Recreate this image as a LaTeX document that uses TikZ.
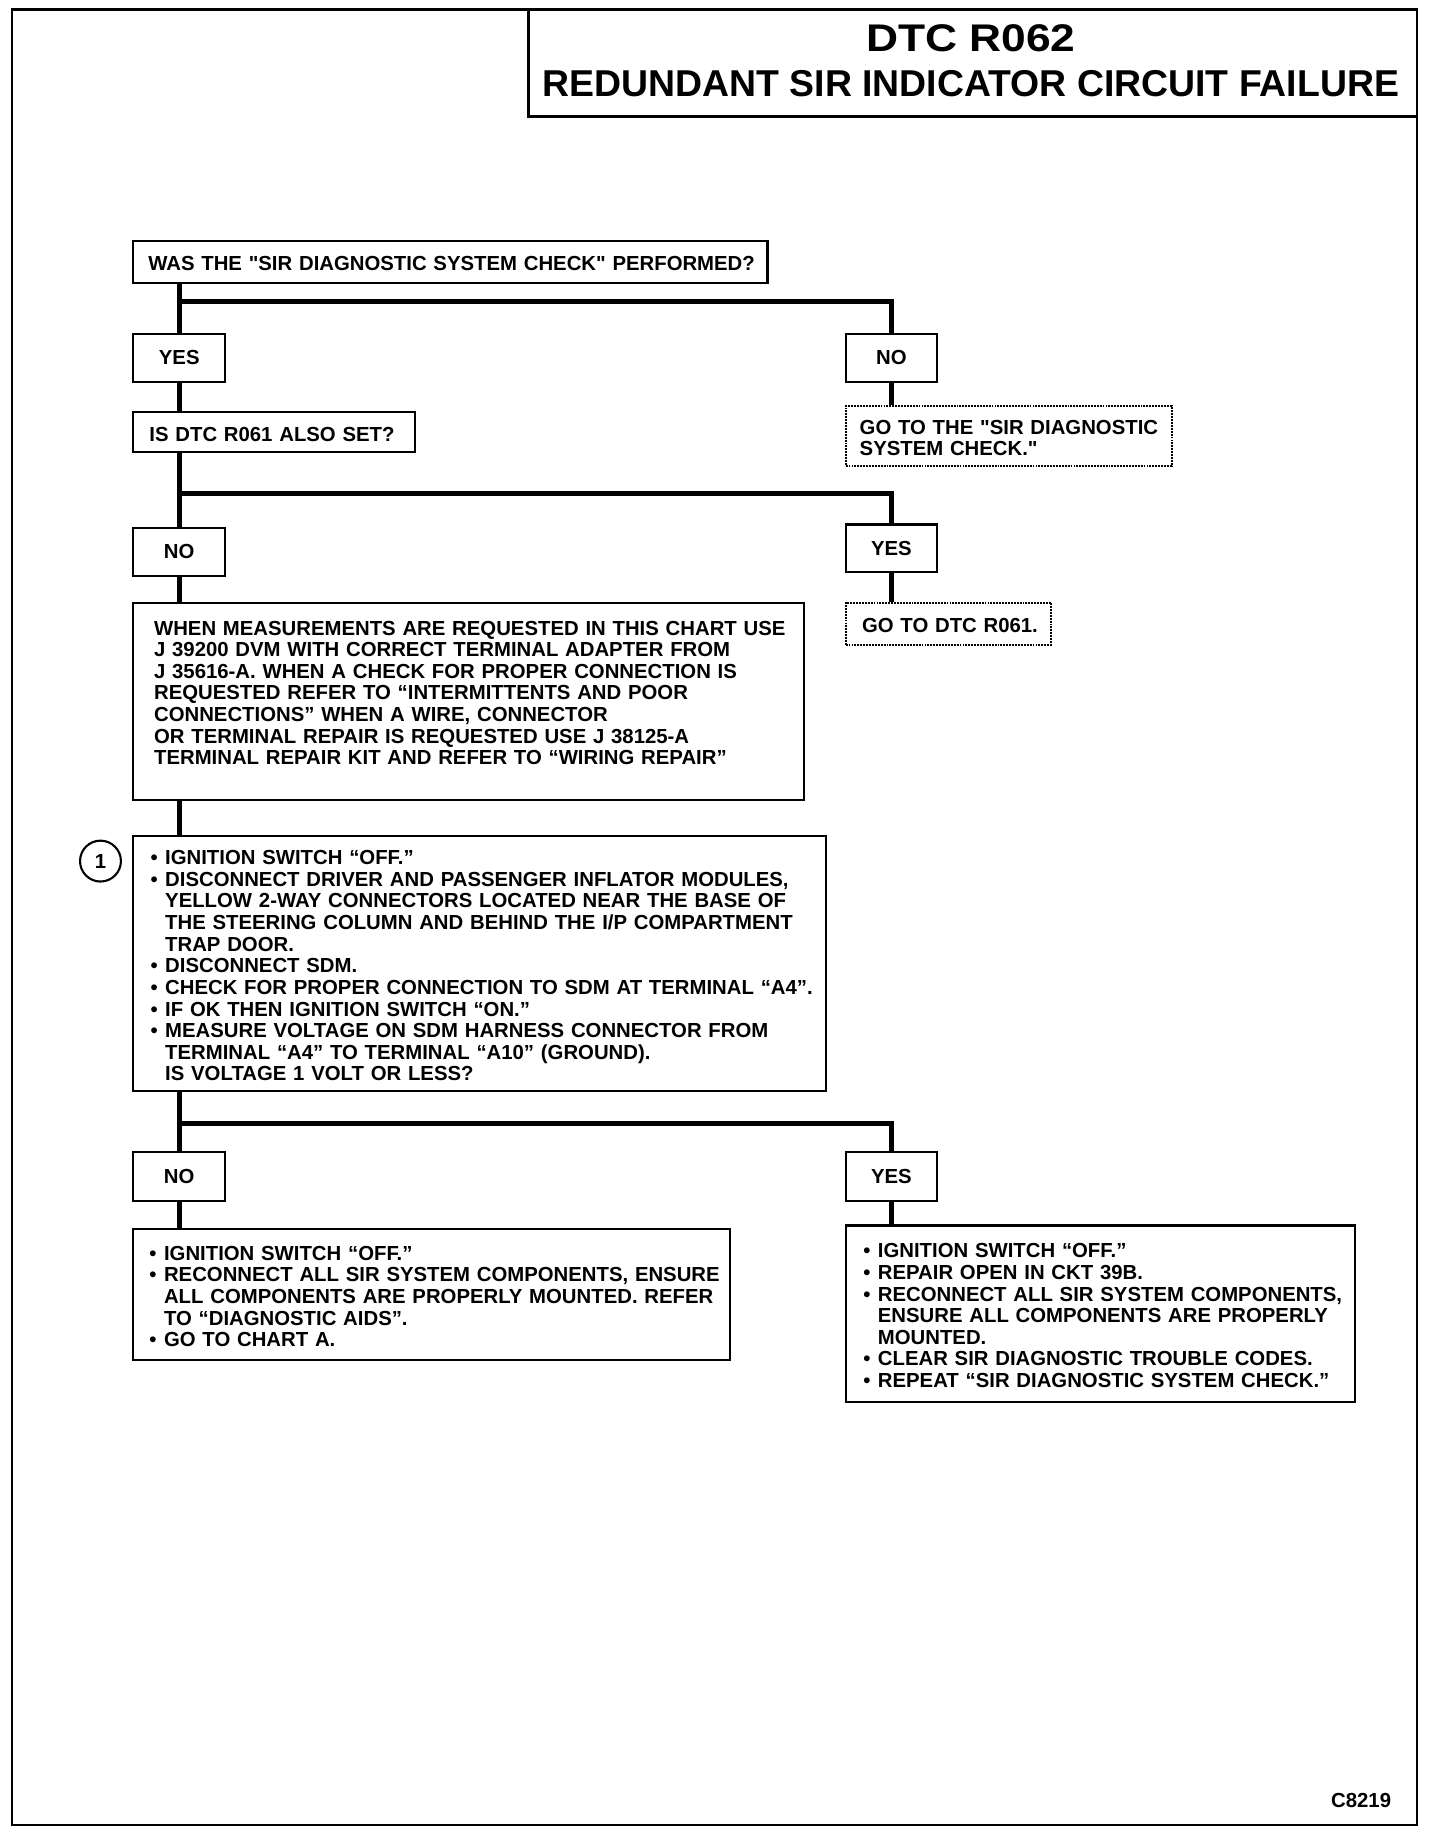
\documentclass[tikz,border=0pt]{standalone}
\usepackage{fontspec}
\setmainfont{Liberation Sans}

\newcommand{\chartfont}{\fontsize{17.4}{18.5}\selectfont\bfseries}
\newcommand{\chartrows}[1]{\raisebox{-4pt}[\height][\depth]{\begin{tabular}{@{}l@{}}#1\end{tabular}}}
\newcommand{\bul}{\makebox[12.5pt][l]{•}}
\newcommand{\contind}{\hspace*{12.5pt}}

\begin{document}
\begin{tikzpicture}[x=1pt, y=-1pt,
    box/.style={draw, line width=1.8pt, anchor=north west, align=left,
        inner xsep=13pt, inner ysep=0pt, font=\chartfont},
    goto/.style={box, line width=1.6pt, dash pattern=on 1.6pt off 0.9pt},
    answer/.style={draw, line width=1.8pt, anchor=north west, inner sep=0pt,
        minimum width=79pt, minimum height=41pt, font=\chartfont},
    conn/.style={line width=4.3pt},
    frame/.style={line width=2pt}]
    % --- 参数 ---
    \def\forkA{258}   % 第一个分叉的 y
    \def\forkB{422}   % 第二个分叉的 y
    \def\forkC{962}   % 第三个分叉的 y

    \useasboundingbox (0,0) rectangle (1232,1568);

    % --- 外框和标题 ---
    \draw[frame] (10,8) rectangle (1213,1562);
    \draw[line width=2.5pt] (452,8) |- (1213,100);
    \node[anchor=base, font=\fontsize{33}{38}\selectfont\bfseries] (title) at (831,44)
        {\scalebox{1.15}[1]{DTC R062}};
    \node[anchor=base, font=\fontsize{32}{36}\selectfont\bfseries] (subtitle) at (831,83)
        {REDUNDANT SIR INDICATOR CIRCUIT FAILURE};

    % --- 第一步：系统检查 ---
    \node[box, text width=517pt, minimum height=36pt] (check) at (113,205)
        {\chartrows{WAS THE \textquotedbl SIR DIAGNOSTIC SYSTEM CHECK\textquotedbl\ PERFORMED?}};
    \node[answer] (yesA) at (113,285) {YES};
    \node[answer, minimum width=78pt] (noA) at (723,285) {NO};
    \node[goto, inner xsep=12pt, text width=255pt, minimum height=51pt] (gotoSys) at (723,347)
        {\chartrows{GO TO THE \textquotedbl SIR DIAGNOSTIC\\ SYSTEM CHECK.\textquotedbl}};

    % --- 第二步：R061 ---
    \node[box, inner xsep=14pt, text width=213pt, minimum height=34pt] (dtc) at (113,352)
        {\chartrows{IS DTC R061 ALSO SET?}};
    \node[answer] (noB) at (113,451) {NO};
    \node[answer, minimum width=78pt] (yesB) at (723,448) {YES};
    \node[goto, inner xsep=14pt, text width=148pt, minimum height=36pt] (gotoR) at (723,515)
        {\chartrows{GO TO DTC R061.}};

    % --- 说明 ---
    \node[box, inner xsep=18pt, text width=538pt, minimum height=169pt] (note) at (113,515)
        {\chartrows{WHEN MEASUREMENTS ARE REQUESTED IN THIS CHART USE\\
        J 39200 DVM WITH CORRECT TERMINAL ADAPTER FROM\\
        J 35616-A. WHEN A CHECK FOR PROPER CONNECTION IS\\
        REQUESTED REFER TO “INTERMITTENTS AND POOR\\
        CONNECTIONS” WHEN A WIRE, CONNECTOR\\
        OR TERMINAL REPAIR IS REQUESTED USE J 38125-A\\
        TERMINAL REPAIR KIT AND REFER TO “WIRING REPAIR”\\[18pt]}};

    % --- 第三步：测量 ---
    \node[box, inner xsep=15pt, text width=563pt, minimum height=218pt] (step) at (113,715)
        {\chartrows{\bul IGNITION SWITCH “OFF.”\\
        \bul DISCONNECT DRIVER AND PASSENGER INFLATOR MODULES,\\
        \contind YELLOW 2-WAY CONNECTORS LOCATED NEAR THE BASE OF\\
        \contind THE STEERING COLUMN AND BEHIND THE I/P COMPARTMENT\\
        \contind TRAP DOOR.\\
        \bul DISCONNECT SDM.\\
        \bul CHECK FOR PROPER CONNECTION TO SDM AT TERMINAL “A4”.\\
        \bul IF OK THEN IGNITION SWITCH “ON.”\\
        \bul MEASURE VOLTAGE ON SDM HARNESS CONNECTOR FROM\\
        \contind TERMINAL “A4” TO TERMINAL “A10” (GROUND).\\
        \contind IS VOLTAGE 1 VOLT OR LESS?}};
    \node[circle, draw, line width=1.8pt, minimum size=35pt, inner sep=0pt,
        font=\chartfont] (mark) at (86,737) {1};

    \node[answer, minimum height=42pt] (noC) at (113,985) {NO};
    \node[answer, minimum width=78pt, minimum height=42pt] (yesC) at (723,985) {YES};

    % --- 结果 ---
    \node[box, inner xsep=14pt, text width=483pt, minimum height=112pt] (fixA) at (113,1051)
        {\chartrows{\bul IGNITION SWITCH “OFF.”\\
        \bul RECONNECT ALL SIR SYSTEM COMPONENTS, ENSURE\\
        \contind ALL COMPONENTS ARE PROPERLY MOUNTED. REFER\\
        \contind TO “DIAGNOSTIC AIDS”.\\
        \bul GO TO CHART A.}};
    \node[box, inner xsep=15pt, text width=406pt, minimum height=151pt] (fixB) at (723,1048)
        {\chartrows{\bul IGNITION SWITCH “OFF.”\\
        \bul REPAIR OPEN IN CKT 39B.\\
        \bul RECONNECT ALL SIR SYSTEM COMPONENTS,\\
        \contind ENSURE ALL COMPONENTS ARE PROPERLY\\
        \contind MOUNTED.\\
        \bul CLEAR SIR DIAGNOSTIC TROUBLE CODES.\\
        \bul REPEAT “SIR DIAGNOSTIC SYSTEM CHECK.”}};

    \node[anchor=base, font=\chartfont] (code) at (1165,1547) {C8219};

    % --- 连线 ---
    \coordinate (splitA) at (yesA.north |- 0,\forkA);
    \coordinate (splitB) at (noB.north |- 0,\forkB);
    \coordinate (splitC) at (noC.north |- 0,\forkC);

    \draw[conn] (check.south -| yesA) -- (yesA.north);
    \draw[conn] (splitA) -| (noA.north);
    \draw[conn] (noA.south) -- (gotoSys.north -| noA);
    \draw[conn] (yesA.south) -- (dtc.north -| yesA);

    \draw[conn] (dtc.south -| noB) -- (noB.north);
    \draw[conn] (splitB) -| (yesB.north);
    \draw[conn] (yesB.south) -- (gotoR.north -| yesB);
    \draw[conn] (noB.south) -- (note.north -| noB);
    \draw[conn] (note.south -| noB) -- (step.north -| noB);

    \draw[conn] (step.south -| noC) -- (noC.north);
    \draw[conn] (splitC) -| (yesC.north);
    \draw[conn] (noC.south) -- (fixA.north -| noC);
    \draw[conn] (yesC.south) -- (fixB.north -| yesC);

\end{tikzpicture}
\end{document}
